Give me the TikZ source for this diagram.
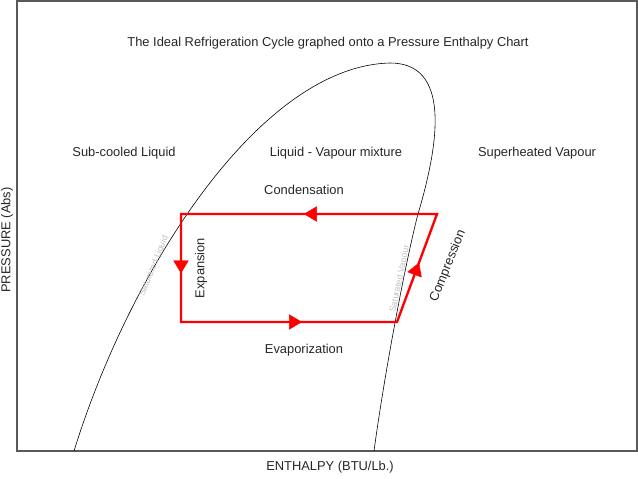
\documentclass[tikz,border=0pt]{standalone}
\usepackage{fontspec}
\setmainfont{Liberation Sans}
\usetikzlibrary{arrows.meta,decorations.markings}
\tikzset{
  frame/.style = {draw=gray!70!black, line width=0.9pt},
  dome/.style = {draw=black, line width=0.5pt},
  cycle_l/.style = {draw=red, line width=2pt, line join=miter},
  mid_arr/.style = {postaction={decorate, decoration={markings,
      mark=at position #1 with {\arrow[red]{Triangle[length=11pt,width=13pt]}}}}},
  lbl/.style = {font=\fontsize{11}{13}\selectfont, text=black!85},
  sat/.style = {font=\fontsize{7.5}{9}\selectfont, text=black!25}
}
\begin{document}
\begin{tikzpicture}[x=0.03cm, y=-0.03cm]
	\useasboundingbox (0,0) rectangle (638,479);
	\draw [frame] (17,1) -- (637,1) -- (637,451) -- (17,451) -- cycle;
	% saturation dome
	\draw [dome] (74,451) .. controls (130,270) and (260,66) .. (390,63)
		.. controls (450,63) and (440,140) .. (418,214)
		.. controls (406,260) and (385,370) .. (374,451);
	% cycle corners
	\coordinate (tl) at (181,214);
	\coordinate (tr) at (437,214);
	\coordinate (br) at (397,322);
	\coordinate (bl) at (181,322);
	\draw [cycle_l] (tr) -- (tl) -- (bl) -- (br) -- cycle;
	\path [mid_arr=0.52] (tr) -- (tl);
	\path [mid_arr=0.55] (tl) -- (bl);
	\path [mid_arr=0.56] (bl) -- (br);
	\path [mid_arr=0.55] (br) -- (tr);
	% labels
	\node [lbl] (title) at (328,43) {The Ideal Refrigeration Cycle graphed onto a Pressure Enthalpy Chart};
	\node [lbl] (sub) at (124,153) {Sub-cooled Liquid};
	\node [lbl] (mix) at (336,153) {Liquid - Vapour mixture};
	\node [lbl] (sup) at (537,153) {Superheated Vapour};
	\node [lbl] (cond) at (304,190) {Condensation};
	\node [lbl] (evap) at (304,350) {Evaporization};
	\node [lbl, rotate=90] (expn) at (201,268) {Expansion};
	\node [lbl, rotate=68] (comp) at (448,266) {Compression};
	\node [sat, rotate=68] (satl) at (154,266) {Saturated Liquid};
	\node [sat, rotate=78] (satv) at (400,279) {Saturated Vapour};
	\node [lbl] (xlab) at (330,467) {ENTHALPY (BTU/Lb.)};
	\node [lbl, rotate=90] (ylab) at (7,240) {PRESSURE (Abs)};
\end{tikzpicture}
\end{document}
